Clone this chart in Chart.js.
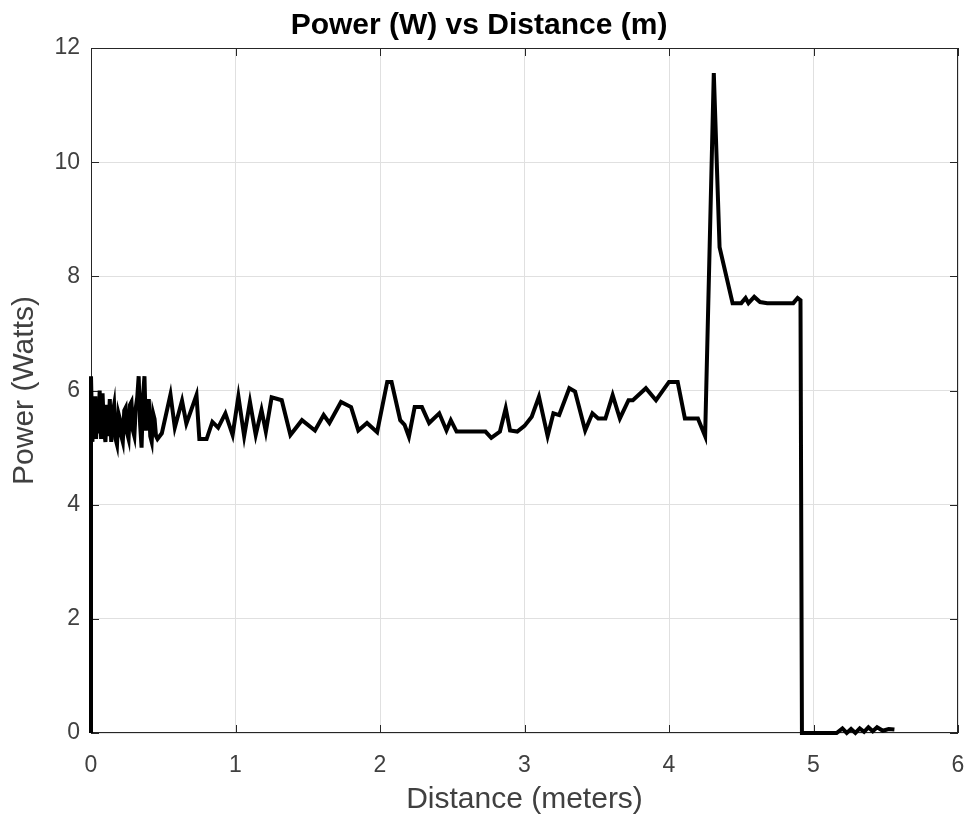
<!DOCTYPE html>
<html>
<head>
<meta charset="utf-8">
<script src="https://cdn.jsdelivr.net/npm/chart.js@4/dist/chart.umd.min.js"></script>
<style>
  html, body { margin: 0; padding: 0; background: #fff; }
  #wrap { width: 968px; height: 824px; }
</style>
</head>
<body>
<div id="wrap"><canvas id="powerChart" width="968" height="824"></canvas></div>
<script>
// distance (m) and power (W)
const distance = [
    0.00, 0.00, 0.01, 0.015, 0.02, 0.03, 0.035, 0.045, 0.05, 0.06,
    0.07, 0.08, 0.09, 0.10, 0.11, 0.12, 0.13, 0.14, 0.15, 0.16,
    0.17, 0.18, 0.19, 0.20, 0.21, 0.22, 0.23, 0.24, 0.25, 0.26,
    0.27, 0.28, 0.29, 0.30, 0.31, 0.32, 0.33, 0.34, 0.35, 0.36,
    0.37, 0.38, 0.39, 0.40, 0.41, 0.42, 0.43, 0.44, 0.45, 0.46,
    0.49, 0.55, 0.58, 0.63, 0.66, 0.73, 0.75, 0.80, 0.84,
    0.88, 0.93, 0.98, 1.02, 1.06, 1.10, 1.14, 1.18, 1.21, 1.25,
    1.32, 1.38, 1.46, 1.55, 1.61, 1.65, 1.73, 1.80, 1.85, 1.91,
    1.98, 2.05, 2.08, 2.14, 2.17, 2.20, 2.24, 2.29, 2.34, 2.41,
    2.46, 2.49, 2.53, 2.61, 2.73, 2.77, 2.83, 2.87, 2.90, 2.95,
    3.00, 3.05, 3.10, 3.16, 3.20, 3.24, 3.31, 3.35, 3.42, 3.47,
    3.51, 3.56, 3.61, 3.66, 3.72, 3.75, 3.84, 3.91, 4.00, 4.06,
    4.11, 4.20, 4.25, 4.31, 4.35, 4.44, 4.50, 4.53, 4.55, 4.59,
    4.63, 4.68, 4.86, 4.89, 4.91, 4.92, 5.16, 5.20, 5.23, 5.26,
    5.29, 5.32, 5.35, 5.38, 5.41, 5.44, 5.48, 5.52, 5.56
];
const power = [
    0.00, 6.25, 5.10, 5.85, 5.20, 5.90, 5.15, 5.70, 5.25, 6.00,
    5.15, 5.95, 5.30, 5.10, 5.75, 5.20, 5.85, 5.10, 5.60, 5.75,
    5.15, 5.05, 5.60, 5.50, 5.20, 5.10, 5.65, 5.70, 5.25, 5.15,
    5.75, 5.80, 5.30, 5.20, 5.70, 5.88, 6.25, 5.40, 5.00, 5.90,
    6.25, 5.30, 5.55, 5.85, 5.20, 5.10, 5.60, 5.50, 5.20, 5.15,
    5.25, 5.93, 5.35, 5.82, 5.42, 5.92, 5.15, 5.15, 5.45,
    5.35, 5.60, 5.22, 5.90, 5.20, 5.80, 5.22, 5.66, 5.28, 5.88,
    5.83, 5.22, 5.48, 5.30, 5.57, 5.43, 5.80, 5.71, 5.30, 5.43,
    5.27, 6.15, 6.15, 5.48, 5.40, 5.19, 5.71, 5.71, 5.43, 5.60,
    5.30, 5.48, 5.28, 5.28, 5.28, 5.17, 5.28, 5.69, 5.30, 5.28,
    5.38, 5.54, 5.89, 5.20, 5.60, 5.57, 6.04, 5.98, 5.30, 5.60,
    5.51, 5.51, 5.92, 5.51, 5.83, 5.83, 6.04, 5.83, 6.15, 6.15,
    5.51, 5.51, 5.20, 11.56, 8.51, 7.53, 7.53, 7.62, 7.53, 7.64,
    7.55, 7.53, 7.53, 7.62, 7.58, 0.00, 0.00, 0.08, 0.00, 0.07,
    0.00, 0.08, 0.02, 0.10, 0.03, 0.10, 0.04, 0.07, 0.06
];
const xTicks = [0, 1, 2, 3, 4, 5, 6];
const yTicks = [0, 2, 4, 6, 8, 10, 12];

const FONT = '"Liberation Sans", Arial, Helvetica, sans-serif';
const AXIS_COLOR = '#262626';

// matlab style box with inward tick marks
const BOX_PLUGIN = {
    id: 'matlabBox',
    beforeDatasetsDraw(chart) {
        const { ctx, chartArea: a, scales } = chart;
        const len = 8;
        ctx.save();
        ctx.strokeStyle = AXIS_COLOR;
        ctx.lineWidth = 1;
        ctx.strokeRect(a.left + 0.5, a.top + 0.5, a.right - a.left - 1, a.bottom - a.top - 1);
        ctx.beginPath();
        xTicks.forEach(v => {
            const px = Math.round(scales.x.getPixelForValue(v)) + 0.5;
            ctx.moveTo(px, a.bottom); ctx.lineTo(px, a.bottom - len);
            ctx.moveTo(px, a.top); ctx.lineTo(px, a.top + len);
        });
        yTicks.forEach(v => {
            const py = Math.round(scales.y.getPixelForValue(v)) + 0.5;
            ctx.moveTo(a.left, py); ctx.lineTo(a.left + len, py);
            ctx.moveTo(a.right, py); ctx.lineTo(a.right - len, py);
        });
        ctx.stroke();
        ctx.restore();
    }
};

new Chart(document.getElementById('powerChart'), {
    type: 'scatter',
    plugins: [BOX_PLUGIN],
    data: {
        datasets: [{
            data: distance.map((d, i) => ({ x: d, y: power[i] })),
            showLine: true,
            borderColor: '#000000',
            borderWidth: 4,
            pointRadius: 0,
            tension: 0,
            clip: 4
        }]
    },
    options: {
        responsive: false,
        animation: false,
        layout: { padding: { left: 0, right: 10, top: 0, bottom: 0 } },
        plugins: {
            legend: { display: false },
            tooltip: { enabled: false },
            title: {
                display: true,
                text: 'Power (W) vs Distance (m)',
                color: '#000000',
                font: { family: FONT, size: 30, weight: 'bold' },
                padding: { top: 8, bottom: 4 }
            }
        },
        scales: {
            x: {
                type: 'linear',
                min: 0, max: 6,
                afterFit: s => { s.height = 91; s.paddingLeft = 0; s.paddingRight = 0; },
                afterBuildTicks: s => { s.ticks = xTicks.map(v => ({ value: v })); },
                ticks: { color: '#404040', font: { family: FONT, size: 23 }, padding: 19 },
                grid: { color: '#e0e0e0', drawTicks: false },
                border: { display: false },
                title: {
                    display: true,
                    text: 'Distance (meters)',
                    color: '#404040',
                    font: { family: FONT, size: 30 },
                    padding: { bottom: 6 }
                }
            },
            y: {
                type: 'linear',
                min: 0, max: 12,
                afterFit: s => { s.width = 91; s.paddingTop = 0; s.paddingBottom = 0; },
                afterBuildTicks: s => { s.ticks = yTicks.map(v => ({ value: v })); },
                ticks: { color: '#404040', font: { family: FONT, size: 23 }, padding: 11 },
                grid: { color: '#e0e0e0', drawTicks: false },
                border: { display: false },
                title: {
                    display: true,
                    text: 'Power (Watts)',
                    color: '#404040',
                    font: { family: FONT, size: 30 },
                    padding: { top: 7 }
                }
            }
        }
    }
});
</script>
</body>
</html>
